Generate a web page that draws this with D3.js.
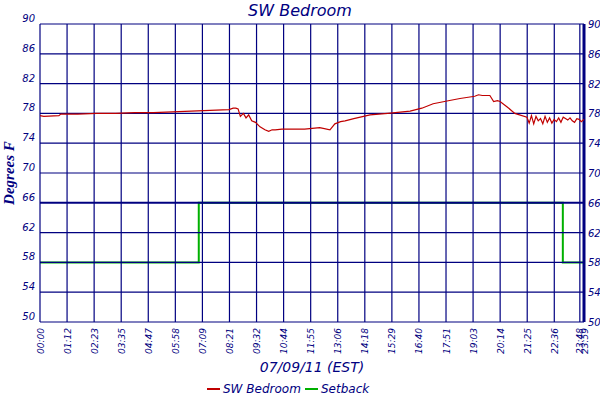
<!DOCTYPE html>
<html><head><meta charset="utf-8">
<script src="https://cdn.jsdelivr.net/npm/d3@7"></script>
<style>body{margin:0;background:#fff}text{font-family:"DejaVu Sans",sans-serif;fill:#000080}</style>
</head><body><div id="chart"></div>
<script>
const yTicks = [50, 54, 58, 62, 66, 70, 74, 78, 82, 86, 90];
const xTickLabels = ["00:00","01:12","02:23","03:35","04:47","05:58","07:09","08:21","09:32","10:44","11:55","13:06","14:18","15:29","16:40","17:51","19:03","20:14","21:25","22:36","23:48","23:59"];
// minutes since midnight, degrees F
const tempTimes = [0,10,50,55,100,150,200,250,300,350,400,450,500,511,518,524,530,538,545,552,560,570,582,595,605,614,622,640,700,740,767,780,795,807,830,873,920,979,1010,1040,1080,1111,1150,1160,1170,1190,1200,1210,1217,1235,1256,1288,1294,1300,1306,1312,1318,1324,1330,1336,1342,1348,1354,1360,1366,1372,1378,1384,1390,1396,1402,1408,1414,1420,1426,1432,1439];
const tempValues = [77.7,77.6,77.7,77.9,77.9,78.0,78.0,78.1,78.1,78.2,78.3,78.4,78.5,78.7,78.7,78.6,77.6,78.0,77.4,77.8,77.0,76.8,76.2,75.8,75.6,75.8,75.8,75.9,75.9,76.1,75.8,76.6,76.9,77.0,77.3,77.8,78.0,78.3,78.7,79.3,79.7,80.0,80.3,80.5,80.4,80.4,79.6,79.7,79.6,78.9,78.0,77.5,76.7,77.7,76.6,77.6,77.0,77.3,76.6,77.6,76.8,77.4,76.7,77.2,76.9,77.4,76.8,77.5,77.3,77.1,77.4,77.0,76.8,77.3,77.2,76.9,77.2];
const setbackTimes = [0,420,420,1383,1383,1439];
const setbackValues = [58,58,66,66,58,58];

const margin = { top: 24, right: 16, bottom: 78, left: 40 };
const width = 600 - margin.left - margin.right;
const height = 400 - margin.top - margin.bottom;

const root = d3.select("#chart").append("svg").attr("width", 600).attr("height", 400);
const svg = root.append("g").attr("transform", `translate(${margin.left},${margin.top})`);

const x = d3.scaleLinear().domain([0, 1439]).range([0, width]);
const y = d3.scaleLinear().domain([50, 90]).range([height, 0]);
const tickMin = i => i === xTickLabels.length - 1 ? 1439 : (i === xTickLabels.length - 2 ? 1428 : i * 71.6);

const line = d3.line().x(d => x(d[0])).y(d => y(d[1]));
svg.append("path").datum(setbackTimes.map((t, i) => [t, setbackValues[i]]))
  .attr("fill", "none").attr("stroke", "#00b000").attr("stroke-width", 2).attr("d", line);

// Grid (drawn over setback, under temperature)
yTicks.forEach(t => svg.append("line").attr("x1", 0).attr("x2", width)
  .attr("y1", y(t)).attr("y2", y(t)).attr("stroke", "#000080").attr("stroke-width", t === 66 ? 2 : 1.2));
xTickLabels.forEach((l, i) => svg.append("line").attr("x1", x(tickMin(i))).attr("x2", x(tickMin(i)))
  .attr("y1", 0).attr("y2", height).attr("stroke", "#000080").attr("stroke-width", 1.2));
svg.append("line").attr("x1", width).attr("x2", width).attr("y1", 0).attr("y2", height)
  .attr("stroke", "#000080").attr("stroke-width", 3);

svg.append("path").datum(tempTimes.map((t, i) => [t, tempValues[i]]))
  .attr("fill", "none").attr("stroke", "#c00000").attr("stroke-width", 1.2).attr("d", line);

// Axis labels
yTicks.forEach(t => {
  svg.append("text").attr("x", -5).attr("y", y(t) - 2).attr("text-anchor", "end")
    .attr("font-size", 10).attr("font-style", "italic").text(t);
  svg.append("text").attr("x", width + 4).attr("y", y(t) + 4)
    .attr("font-size", 10).attr("font-style", "italic").text(t);
});
xTickLabels.forEach((l, i) => {
  svg.append("text").attr("transform", `translate(${x(tickMin(i)) + 3.5},${height + 6}) rotate(-90)`)
    .attr("text-anchor", "end").attr("font-size", 9).attr("font-style", "italic").text(l);
});

// Titles
root.append("text").attr("x", 300).attr("y", 16).attr("text-anchor", "middle")
  .attr("font-size", 16).attr("font-style", "italic").text("SW Bedroom");
root.append("text").attr("transform", "translate(14,173) rotate(-90)").attr("text-anchor", "middle")
  .attr("font-weight", "bold").attr("font-style", "italic")
  .attr("font-size", 15).style("font-family", "Liberation Serif").text("Degrees F");
root.append("text").attr("x", 312).attr("y", 372).attr("text-anchor", "middle")
  .attr("font-size", 14).attr("font-style", "italic").text("07/09/11 (EST)");

// Legend
const legend = [["SW Bedroom", "#c00000", 207], ["Setback", "#00b000", 305]];
legend.forEach(([name, c, lx]) => {
  root.append("line").attr("x1", lx).attr("x2", lx + 13).attr("y1", 389).attr("y2", 389)
    .attr("stroke", c).attr("stroke-width", 2);
  root.append("text").attr("x", lx + 16).attr("y", 393).attr("font-size", 12)
    .attr("font-style", "italic").text(name);
});
</script></body></html>
